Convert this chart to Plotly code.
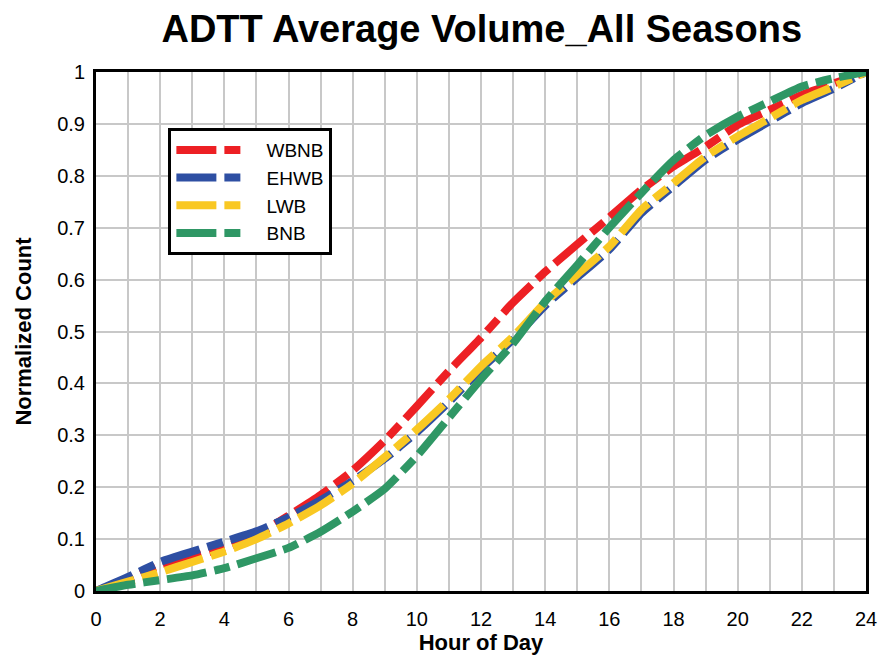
"""ADTT average volume, all seasons: cumulative normalized count by hour."""

import plotly.graph_objects as go

HOURS = list(range(25))

WBNB = [0, 0.022, 0.05, 0.066, 0.083, 0.108, 0.145, 0.185, 0.232, 0.29, 0.356, 0.424,
        0.488, 0.556, 0.615, 0.668, 0.72, 0.773, 0.818, 0.856, 0.898, 0.927, 0.956,
        0.978, 1.0]
EHWB = [0, 0.027, 0.056, 0.076, 0.095, 0.115, 0.142, 0.175, 0.212, 0.255, 0.306, 0.364,
        0.428, 0.485, 0.55, 0.604, 0.658, 0.728, 0.78, 0.831, 0.87, 0.905, 0.94,
        0.968, 1.0]
LWB = [0, 0.018, 0.036, 0.056, 0.076, 0.1, 0.13, 0.165, 0.207, 0.258, 0.311, 0.369,
       0.433, 0.49, 0.556, 0.61, 0.664, 0.735, 0.786, 0.837, 0.876, 0.911, 0.946,
       0.972, 1.0]
BNB = [0, 0.012, 0.021, 0.03, 0.044, 0.063, 0.083, 0.114, 0.153, 0.197, 0.26, 0.334,
       0.408, 0.477, 0.558, 0.628, 0.70, 0.767, 0.83, 0.878, 0.914, 0.943, 0.972,
       0.988, 1.0]

SERIES = [
    ("WBNB", WBNB, "#ED2024"),
    ("EHWB", EHWB, "#2E4FA3"),
    ("LWB", LWB, "#F9C823"),
    ("BNB", BNB, "#2F9765"),
]

GRID = "#C8C8C8"
FONT = "Liberation Sans, Arial, sans-serif"
PAD = "\u00a0\u00a0\u00a0\u00a0"  # gap between legend swatch and label

fig = go.Figure()
for name, values, color in SERIES:
    fig.add_trace(
        go.Scatter(
            x=HOURS,
            y=values,
            name=PAD + name,
            mode="lines",
            line=dict(color=color, width=8, dash="40px,8px,16px,8px",
                      shape="spline", smoothing=0.5),
        )
    )

fig.update_layout(
    width=884,
    height=662,
    margin=dict(l=96, r=18, t=72, b=71),
    paper_bgcolor="white",
    plot_bgcolor="white",
    font=dict(family=FONT, color="black", size=20),
    title=dict(
        text="<b>ADTT Average Volume_All Seasons</b>",
        x=0.545,
        xanchor="center",
        y=0.957,
        yanchor="middle",
        font=dict(size=38),
    ),
    legend=dict(
        x=0.094,
        y=0.892,
        xanchor="left",
        yanchor="top",
        bgcolor="white",
        bordercolor="black",
        borderwidth=3,
        font=dict(size=19),
        itemwidth=64,
        tracegroupgap=0,
    ),
    xaxis=dict(
        range=[0, 24],
        dtick=2,
        automargin=False,
        showgrid=True,
        gridcolor=GRID,
        gridwidth=1.5,
        minor=dict(dtick=1, showgrid=True, gridcolor=GRID, gridwidth=1.5),
        showline=True,
        linecolor="black",
        linewidth=3,
        mirror=True,
        zeroline=False,
        ticks="",
        ticklabelstandoff=8,
        tickfont=dict(size=20),
        title=dict(text="<b>Hour of Day</b>", font=dict(size=22), standoff=4),
    ),
    yaxis=dict(
        range=[0, 1],
        dtick=0.1,
        automargin=False,
        showgrid=True,
        gridcolor=GRID,
        gridwidth=1.5,
        showline=True,
        linecolor="black",
        linewidth=3,
        mirror=True,
        zeroline=False,
        ticks="",
        ticklabelstandoff=4,
        tickfont=dict(size=20),
        title=dict(text="<b>Normalized Count</b>", font=dict(size=22), standoff=20),
    ),
)

# drop the default 8px page margin so the figure sits at the window's corner
fig.write_html(
    "out.html",
    config={"displayModeBar": False},
    post_script="document.body.style.margin='0px';",
)
